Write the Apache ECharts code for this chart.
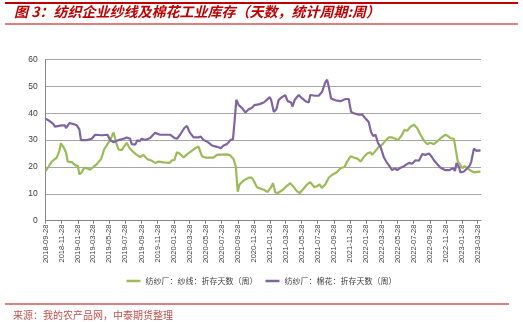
<!DOCTYPE html>
<html><head><meta charset="utf-8">
<script src="https://cdn.jsdelivr.net/npm/echarts@6/dist/echarts.min.js"></script>
<style>html,body{margin:0;padding:0;background:#fff}#c{width:523px;height:322px}</style>
</head><body><div id="c"></div>
<script>
const tickLabels = ['2018-09-28','2018-11-28','2019-01-28','2019-03-28','2019-05-28','2019-07-28','2019-09-28','2019-11-28','2020-01-28','2020-03-28','2020-05-28','2020-07-28','2020-09-28','2020-11-28','2021-01-28','2021-03-28','2021-05-28','2021-07-28','2021-09-28','2021-11-28','2022-01-28','2022-03-28','2022-05-28','2022-07-28','2022-09-28','2022-11-28','2023-01-28','2023-03-28'];

const yarnDates = ['2018-09-28','2018-10-08','2018-10-21','2018-11-09','2018-11-19','2018-11-25','2018-12-04','2018-12-14','2018-12-21','2019-01-05','2019-01-20','2019-01-28','2019-02-03','2019-02-12','2019-02-22','2019-03-03','2019-03-16','2019-03-28','2019-04-10','2019-04-27','2019-05-08','2019-05-21','2019-05-31','2019-06-13','2019-06-23','2019-07-02','2019-07-14','2019-07-21','2019-08-02','2019-08-13','2019-08-28','2019-09-09','2019-09-22','2019-10-05','2019-10-18','2019-11-06','2019-11-18','2019-12-01','2019-12-20','2020-01-12','2020-01-21','2020-01-30','2020-02-09','2020-02-19','2020-03-05','2020-03-18','2020-03-30','2020-04-19','2020-05-01','2020-05-14','2020-05-27','2020-06-15','2020-06-27','2020-07-10','2020-07-29','2020-08-17','2020-08-30','2020-09-11','2020-09-20','2020-09-27','2020-10-04','2020-10-20','2020-11-08','2020-11-20','2020-11-29','2020-12-09','2020-12-22','2021-01-04','2021-01-19','2021-02-01','2021-02-08','2021-02-17','2021-02-26','2021-03-02','2021-03-18','2021-04-02','2021-04-15','2021-04-28','2021-05-10','2021-05-21','2021-06-05','2021-06-18','2021-06-30','2021-07-15','2021-07-25','2021-08-04','2021-08-13','2021-08-26','2021-09-08','2021-09-20','2021-10-09','2021-10-23','2021-11-07','2021-11-17','2021-11-30','2021-12-12','2021-12-28','2022-01-07','2022-01-22','2022-02-01','2022-02-14','2022-02-20','2022-03-05','2022-03-17','2022-03-30','2022-04-12','2022-04-24','2022-05-07','2022-05-20','2022-05-29','2022-06-11','2022-06-23','2022-07-03','2022-07-16','2022-07-29','2022-08-10','2022-08-23','2022-09-05','2022-09-17','2022-09-30','2022-10-13','2022-10-26','2022-11-07','2022-11-26','2022-12-05','2022-12-15','2022-12-28','2023-01-03','2023-01-12','2023-01-20','2023-01-29','2023-02-07','2023-02-17','2023-03-04','2023-03-14','2023-03-27','2023-04-08'];
const yarnValues = [18.5,20,22,23.5,26,28.8,27.5,25.5,22,21.8,20.5,20.5,17.2,18,19.8,19.5,19,20,21,23,26.5,28.5,30,32.8,29,26.5,26.3,27,29,27,25.5,24.5,23.7,24.5,23,22.3,21.5,22,21.7,21.5,22.5,22.5,25.5,25,23.5,24.7,25.5,27,27.6,24,23.5,23.5,23.5,24.5,24.6,24.7,24.3,23,20,10.8,13.5,15,16,16,14.5,12.5,12,11.5,10.7,12.5,14,10.5,10.3,10.5,11.5,13,14,12.5,11,10.3,12,13.5,14.3,12.5,12.8,13.5,12.2,13.5,16,17,18,19.5,20,22,24,23.5,23,22,24,25,25.5,24.5,26,27.5,28.3,29.8,31,31,30.5,30,31.5,33.8,33.5,35,35.7,34.5,32,29.8,28.5,29,28.5,29.5,30.7,32,31.5,30.7,30.5,27,22,21,19.5,20.3,19.5,18.5,18,18.2,18.3];

const cottonDates = ['2018-09-28','2018-10-14','2018-10-27','2018-11-02','2018-11-28','2018-12-10','2018-12-14','2018-12-27','2019-01-11','2019-01-24','2019-02-03','2019-02-09','2019-02-16','2019-03-03','2019-03-22','2019-04-04','2019-04-29','2019-05-21','2019-05-31','2019-06-13','2019-07-02','2019-07-21','2019-08-02','2019-08-15','2019-08-21','2019-09-03','2019-09-12','2019-09-20','2019-09-28','2019-10-11','2019-10-30','2019-11-18','2019-12-07','2019-12-20','2019-12-26','2020-01-14','2020-01-30','2020-02-09','2020-02-21','2020-03-08','2020-03-18','2020-03-28','2020-04-12','2020-05-01','2020-05-10','2020-05-20','2020-06-02','2020-06-21','2020-07-10','2020-07-25','2020-08-04','2020-08-17','2020-08-30','2020-09-09','2020-09-14','2020-09-22','2020-10-01','2020-10-13','2020-10-26','2020-11-01','2020-11-08','2020-11-20','2020-11-29','2020-12-16','2021-01-04','2021-01-16','2021-01-27','2021-02-01','2021-02-11','2021-02-21','2021-03-02','2021-03-14','2021-03-27','2021-04-05','2021-04-18','2021-04-23','2021-05-02','2021-05-17','2021-05-30','2021-06-12','2021-06-24','2021-06-30','2021-07-19','2021-08-01','2021-08-14','2021-08-26','2021-09-02','2021-09-08','2021-09-17','2021-10-04','2021-10-23','2021-11-11','2021-11-23','2021-12-02','2021-12-12','2021-12-31','2022-01-13','2022-01-26','2022-02-07','2022-02-16','2022-02-24','2022-03-05','2022-03-14','2022-03-24','2022-04-06','2022-04-18','2022-04-29','2022-05-07','2022-05-18','2022-05-26','2022-06-08','2022-06-21','2022-07-10','2022-07-22','2022-08-04','2022-08-17','2022-08-30','2022-09-11','2022-09-24','2022-10-03','2022-10-13','2022-10-26','2022-11-07','2022-11-26','2022-12-09','2022-12-25','2023-01-01','2023-01-07','2023-01-16','2023-01-22','2023-02-04','2023-02-17','2023-02-27','2023-03-04','2023-03-14','2023-03-24','2023-04-02','2023-04-08'];
const cottonValues = [38,37,36,35,35.5,35.5,34.5,36.3,36,35.5,34,30,29.5,30,30.5,32,31.8,32,30,29.2,30,30.5,31,30.5,28.5,28.3,30,29.5,30.5,30,30.8,32.7,32,32,32.7,32,30.8,30.5,32,34.5,35.3,33,31,31,31.3,30,29.5,28,27.5,27,28,28.5,30,30.3,31,45,43,42,40.3,40.5,41.5,42,43,43.3,44,45,46,45,40.5,41.5,45,46,46.7,44.5,44,42.5,45,46.8,45.5,44.5,44,46.8,46.5,46.5,48,51.5,52.5,50,45.5,44.8,44.5,45.3,45.3,40.5,40,39.5,39.5,38,36.7,33,31.5,32,29,27.5,23.5,21.5,20,18.8,19.5,18.8,19.7,20.3,21.5,21.2,22.5,22.3,24.8,24.5,25,24,22.5,21,19.7,18.8,18.8,19.5,18.5,21.5,20,18,18.3,19.5,20.7,22,26.8,26,26.2,26];

const seriesNames = ['纺纱厂：纱线：折存天数（周）','纺纱厂：棉花：折存天数（周）'];
const yTicks = {min: 0, max: 60, interval: 10};

function parseDate(s){const p=s.split('-');return new Date(+p[0],+p[1]-1,+p[2]).getTime();}
function fmt(v){const d=new Date(v);const m=d.getMonth()+1,dd=d.getDate();return d.getFullYear()+'-'+(m<10?'0':'')+m+'-'+(dd<10?'0':'')+dd;}
const tickVals = tickLabels.map(parseDate);

const chart = echarts.init(document.getElementById('c'), null, {renderer:'canvas'});
chart.setOption({
  animation: false,
  backgroundColor: '#fff',
  graphic: [
    {type:'rect', shape:{x:5,y:2,width:513,height:2}, style:{fill:'#c00000'}},
    {type:'rect', shape:{x:5,y:23.5,width:513,height:1}, style:{fill:'#c00000'}},
    {type:'rect', shape:{x:5,y:303.5,width:504,height:1}, style:{fill:'#c00000'}},
    {type:'text', left:14, top:5, style:{text:'图 3：纺织企业纱线及棉花工业库存（天数，统计周期:周）', fill:'#c00000', font:'italic bold 14px "Noto Sans CJK SC"'}},
    {type:'text', left:13, top:310, style:{text:'来源：我的农产品网，中泰期货整理', fill:'#c0504d', font:'10px "Noto Sans CJK SC"'}}
  ],
  grid: {left:45.7, top:59.5, right:42, bottom:101.3},
  legend: {
    bottom: 32, left: 'center',
    icon: 'rect', itemWidth: 14, itemHeight: 2.5, itemGap: 8,
    textStyle: {fontSize: 8, color:'#404040', fontFamily:'"Noto Sans CJK SC"'},
    data: seriesNames
  },
  xAxis: {
    type: 'value',
    min: parseDate('2018-09-28'),
    max: parseDate('2023-04-10'),
    axisLine: {show:true, onZero:false, lineStyle:{color:'#868686', width:1}},
    axisTick: {show:true, customValues: tickVals, length:3, lineStyle:{color:'#868686'}},
    axisLabel: {customValues: tickVals, rotate: 90, fontSize: 7.5, color:'#404040', margin: 4,
      formatter: function(v){return fmt(v);}, hideOverlap:false, showMinLabel:true, showMaxLabel:true},
    splitLine: {show:false}
  },
  yAxis: {
    type: 'value', min: yTicks.min, max: yTicks.max, interval: yTicks.interval,
    axisLine: {show:true, lineStyle:{color:'#868686'}},
    axisTick: {show:false},
    axisLabel: {fontSize: 8.5, color:'#404040', margin: 8},
    splitLine: {lineStyle:{color:'#a6a6a6', width:1}}
  },
  series: [
    {name: seriesNames[0], type:'line', showSymbol:false, symbol:'none',
     data: yarnDates.map((d,i)=>[parseDate(d), yarnValues[i]]),
     lineStyle:{color:'#9bbb59', width:2.2}, itemStyle:{color:'#9bbb59'}},
    {name: seriesNames[1], type:'line', showSymbol:false, symbol:'none',
     data: cottonDates.map((d,i)=>[parseDate(d), cottonValues[i]]),
     lineStyle:{color:'#8064a2', width:2.2}, itemStyle:{color:'#8064a2'}}
  ]
});
</script></body></html>
